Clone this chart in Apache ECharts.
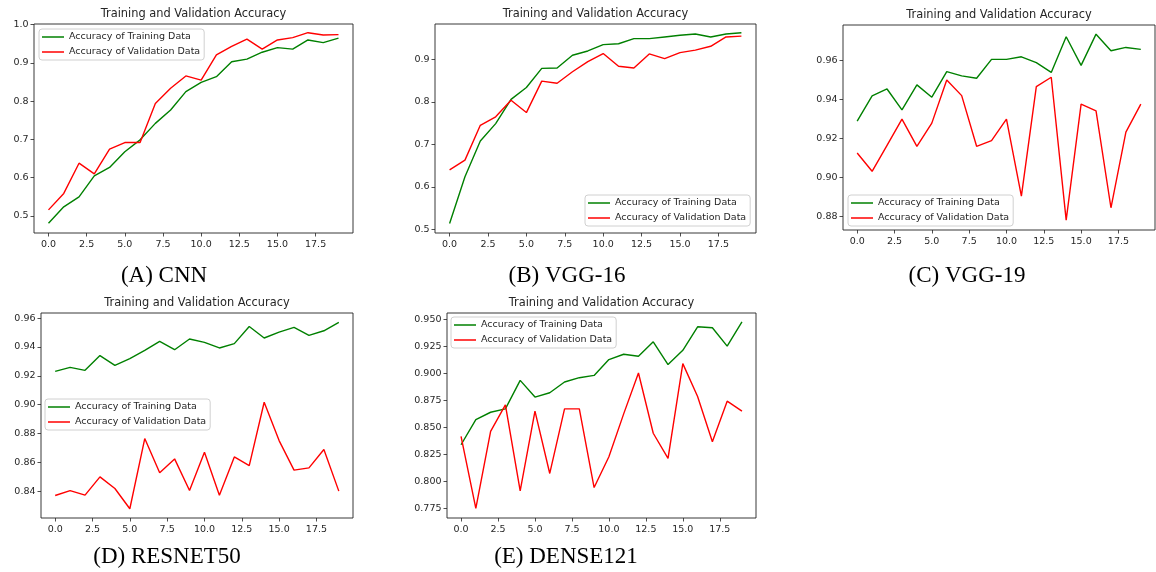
<!DOCTYPE html>
<html>
<head>
<meta charset="utf-8">
<script src="https://cdn.jsdelivr.net/npm/echarts@6/dist/echarts.min.js"></script>
<style>
html,body{margin:0;padding:0;background:#fff;}
#chart{width:1156px;height:572px;}
</style>
</head>
<body>
<div id="chart"></div>
<script>
// ---- data ----
const epochs = [0,1,2,3,4,5,6,7,8,9,10,11,12,13,14,15,16,17,18,19];
const xTicks = [0,2.5,5,7.5,10,12.5,15,17.5];

const cnnTrain = [0.481,0.524,0.550,0.605,0.627,0.668,0.699,0.742,0.777,0.825,0.849,0.864,0.903,0.910,0.928,0.940,0.936,0.960,0.953,0.965];
const cnnVal   = [0.516,0.559,0.638,0.610,0.675,0.692,0.692,0.794,0.834,0.866,0.855,0.921,0.943,0.962,0.936,0.960,0.966,0.979,0.973,0.974];
const cnnYTicks = [0.5,0.6,0.7,0.8,0.9,1.0];

const vgg16Train = [0.514,0.624,0.708,0.749,0.806,0.834,0.879,0.880,0.910,0.920,0.935,0.937,0.949,0.949,0.953,0.957,0.960,0.953,0.960,0.963];
const vgg16Val   = [0.640,0.663,0.745,0.765,0.804,0.775,0.849,0.844,0.871,0.895,0.914,0.884,0.880,0.913,0.902,0.916,0.922,0.931,0.953,0.955];
const vgg16YTicks = [0.5,0.6,0.7,0.8,0.9];

const vgg19Train = [0.929,0.942,0.9455,0.9348,0.9476,0.9413,0.9544,0.9522,0.9510,0.9607,0.9607,0.962,0.959,0.954,0.9723,0.9576,0.9736,0.9651,0.9668,0.9658];
const vgg19Val   = [0.9127,0.9033,0.9166,0.930,0.9161,0.928,0.9501,0.9421,0.9161,0.919,0.930,0.8906,0.9467,0.9515,0.8783,0.9377,0.9343,0.8846,0.9234,0.9377];
const vgg19YTicks = [0.88,0.90,0.92,0.94,0.96];

const resnetTrain = [0.9231,0.9259,0.9238,0.934,0.9273,0.9319,0.9376,0.9439,0.9381,0.9455,0.9432,0.9393,0.9423,0.9542,0.9462,0.9503,0.9535,0.948,0.9512,0.957];
const resnetVal   = [0.8372,0.8406,0.8374,0.8501,0.842,0.828,0.8766,0.8529,0.8625,0.8406,0.8671,0.8374,0.8639,0.8579,0.9017,0.8752,0.8547,0.8563,0.869,0.8402];
const resnetYTicks = [0.84,0.86,0.88,0.90,0.92,0.94,0.96];

const denseTrain = [0.834,0.8572,0.864,0.8671,0.8934,0.878,0.882,0.8919,0.8959,0.898,0.9126,0.9175,0.9157,0.929,0.908,0.9212,0.9429,0.942,0.925,0.9475];
const denseVal   = [0.8418,0.7753,0.8464,0.8708,0.7914,0.865,0.8075,0.8671,0.8671,0.7945,0.8229,0.8625,0.9002,0.8446,0.8214,0.9089,0.8786,0.8368,0.8742,0.865];
const denseYTicks = [0.775,0.800,0.825,0.850,0.875,0.900,0.925,0.950];

const trainName = 'Accuracy of Training Data';
const valName = 'Accuracy of Validation Data';
const chartTitle = 'Training and Validation Accuracy';
const captions = ['(A) CNN','(B) VGG-16','(C) VGG-19','(D) RESNET50','(E) DENSE121'];

// ---- layout ----
const panels = [
  {train:cnnTrain, val:cnnVal, yTicks:cnnYTicks, dec:1, ymin:0.4556, ymax:1.0017,
   grid:{left:34,top:24,width:319,height:209}, legend:{left:39,top:29}, cap:{x:164,y:264}},
  {train:vgg16Train, val:vgg16Val, yTicks:vgg16YTicks, dec:1, ymin:0.4915, ymax:0.9835,
   grid:{left:435,top:24,width:321,height:209}, legend:{left:585,top:195}, cap:{x:567,y:264}},
  {train:vgg19Train, val:vgg19Val, yTicks:vgg19YTicks, dec:2, ymin:0.8732, ymax:0.9783,
   grid:{left:843,top:25,width:312,height:205}, legend:{left:848,top:195}, cap:{x:967,y:264}},
  {train:resnetTrain, val:resnetVal, yTicks:resnetYTicks, dec:2, ymin:0.8216, ymax:0.9635,
   grid:{left:41,top:313,width:312,height:205}, legend:{left:45,top:399}, cap:{x:167,y:545}},
  {train:denseTrain, val:denseVal, yTicks:denseYTicks, dec:3, ymin:0.7664, ymax:0.9556,
   grid:{left:447,top:313,width:309,height:205}, legend:{left:451,top:317}, cap:{x:566,y:545}}
];

const FONT = 'DejaVu Sans';
const TXT = '#262626';
const grids=[], xAxes=[], yAxes=[], series=[], legends=[], titles=[];

panels.forEach((p,i)=>{
  grids.push(Object.assign({show:true, borderColor:'#222', borderWidth:0.9, backgroundColor:'#fff'}, p.grid));
  xAxes.push({
    type:'value', gridIndex:i, min:-0.95, max:19.95,
    axisLine:{show:false, onZero:false}, splitLine:{show:false},
    axisTick:{show:true, customValues:xTicks, length:3.5, lineStyle:{color:'#222', width:0.8}},
    axisLabel:{customValues:xTicks, formatter:v=>v.toFixed(1), margin:6.5,
      fontFamily:FONT, fontSize:9.5, color:TXT}
  });
  yAxes.push({
    type:'value', gridIndex:i, min:p.ymin, max:p.ymax,
    axisLine:{show:false, onZero:false}, splitLine:{show:false},
    axisTick:{show:true, customValues:p.yTicks, length:3.5, lineStyle:{color:'#222', width:0.8}},
    axisLabel:{customValues:p.yTicks, formatter:v=>v.toFixed(p.dec), margin:5.5,
      fontFamily:FONT, fontSize:9.5, color:TXT}
  });
  series.push({
    name:trainName, type:'line', xAxisIndex:i, yAxisIndex:i, symbol:'none',
    data:epochs.map((e,k)=>[e,p.train[k]]), lineStyle:{color:'#008000', width:1.4},
    itemStyle:{color:'#008000'}, animation:false, z:2
  });
  series.push({
    name:valName, type:'line', xAxisIndex:i, yAxisIndex:i, symbol:'none',
    data:epochs.map((e,k)=>[e,p.val[k]]), lineStyle:{color:'#ff0000', width:1.4},
    itemStyle:{color:'#ff0000'}, animation:false, z:3
  });
  legends.push({
    data:[trainName,valName], orient:'vertical', left:p.legend.left, top:p.legend.top,
    icon:'rect', itemWidth:22, itemHeight:1.5, itemGap:5, padding:[3,4,3,3],
    backgroundColor:'rgba(255,255,255,0.85)', borderColor:'#d0d0d0', borderWidth:1, borderRadius:3,
    textStyle:{fontFamily:FONT, fontSize:9.5, lineHeight:10, color:TXT}, selectedMode:false
  });
  titles.push({
    text:chartTitle, left:p.grid.left + p.grid.width/2, top:p.grid.top-15, textAlign:'center', padding:0,
    textStyle:{fontFamily:FONT, fontSize:11.4, fontWeight:'normal', color:TXT}
  });
  titles.push({
    text:captions[i], left:p.cap.x, top:p.cap.y, textAlign:'center', padding:0,
    textStyle:{fontFamily:'Liberation Serif', fontSize:23, fontWeight:'normal', color:'#000'}
  });
});

const chart = echarts.init(document.getElementById('chart'), null, {renderer:'canvas'});
chart.setOption({
  backgroundColor:'#fff',
  animation:false,
  title:titles, grid:grids, xAxis:xAxes, yAxis:yAxes, legend:legends, series:series
});
</script>
</body>
</html>
